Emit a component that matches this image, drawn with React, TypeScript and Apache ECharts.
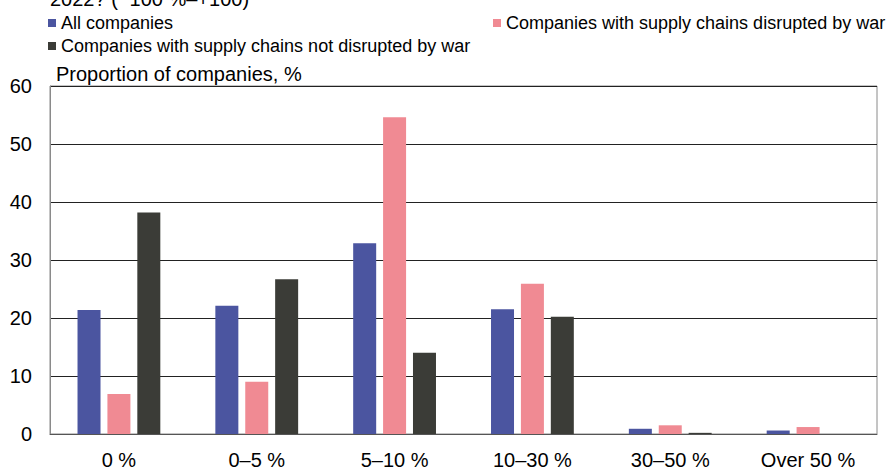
import React, { useEffect, useRef } from "react";
import * as echarts from "echarts";

const categories = ["0 %", "0–5 %", "5–10 %", "10–30 %", "30–50 %", "Over 50 %"];
const allCompanies = [21.4, 22.1, 32.9, 21.5, 0.9, 0.6];
const disrupted = [6.9, 9.0, 54.6, 25.9, 1.5, 1.2];
const notDisrupted = [38.2, 26.7, 14.0, 20.2, 0.2, 0];
const seriesNames = [
  "All companies",
  "Companies with supply chains disrupted by war",
  "Companies with supply chains not disrupted by war",
];
const titleText = "2022? (−100 %–+100)";
const yAxisTitle = "Proportion of companies, %";

const FONT = "'Liberation Sans', Arial, Helvetica, sans-serif";

export default function App() {
  const ref = useRef<HTMLDivElement>(null);
  useEffect(() => {
    if (!ref.current) return;
    const chart = echarts.init(ref.current, undefined, { renderer: "svg" });
    chart.setOption({
      animation: false,
      backgroundColor: "#ffffff",
      textStyle: { fontFamily: FONT, color: "#000" },
      grid: {
        left: 50,
        right: 13,
        top: 86,
        bottom: 34,
        show: true,
        borderColor: "#8a8a8a",
        borderWidth: 1,
        backgroundColor: "transparent",
      },
      legend: [
        {
          data: [seriesNames[0], seriesNames[2]],
          orient: "vertical",
          left: 48,
          top: 14,
          icon: "rect",
          itemWidth: 8,
          itemHeight: 8,
          itemGap: 5,
          itemStyle: { borderWidth: 0 },
          textStyle: { fontSize: 18, color: "#000", fontFamily: FONT, padding: [0, 0, 0, 0] },
          padding: 0,
        },
        {
          data: [seriesNames[1]],
          orient: "horizontal",
          left: 493,
          top: 14,
          icon: "rect",
          itemWidth: 8,
          itemHeight: 8,
          itemStyle: { borderWidth: 0 },
          textStyle: { fontSize: 18, color: "#000", fontFamily: FONT, padding: [0, 0, 0, 0] },
          padding: 0,
        },
      ],
      graphic: [
        {
          type: "text",
          left: 50,
          top: -11,
          style: { text: titleText, fontSize: 20, fill: "#000", fontFamily: FONT },
        },
        {
          type: "text",
          left: 56,
          top: 64,
          style: { text: yAxisTitle, fontSize: 20, fill: "#000", fontFamily: FONT },
        },
      ],
      xAxis: {
        type: "category",
        data: categories,
        axisLine: { show: true, lineStyle: { color: "#555", width: 1 } },
        axisTick: { show: false },
        axisLabel: { fontSize: 20, color: "#000", margin: 16, fontFamily: FONT },
      },
      yAxis: {
        type: "value",
        min: 0,
        max: 60,
        interval: 10,
        axisLine: { show: true, lineStyle: { color: "#8a8a8a" } },
        axisTick: { show: false },
        axisLabel: { fontSize: 20, color: "#000", margin: 18, fontFamily: FONT },
        splitLine: { show: true, lineStyle: { color: "#222", width: 1 } },
      },
      series: [
        {
          name: seriesNames[0],
          type: "bar",
          data: allCompanies,
          barWidth: 23,
          barGap: "30%",
          itemStyle: { color: "#4b55a0" },
        },
        {
          name: seriesNames[1],
          type: "bar",
          data: disrupted,
          barWidth: 23,
          barGap: "30%",
          itemStyle: { color: "#f08a93" },
        },
        {
          name: seriesNames[2],
          type: "bar",
          data: notDisrupted,
          barWidth: 23,
          barGap: "30%",
          itemStyle: { color: "#3b3c37" },
        },
      ],
    });
    return () => chart.dispose();
  }, []);
  return (
    <div
      ref={ref}
      style={{ position: "fixed", left: 0, top: 0, width: 890, height: 470 }}
    />
  );
}
